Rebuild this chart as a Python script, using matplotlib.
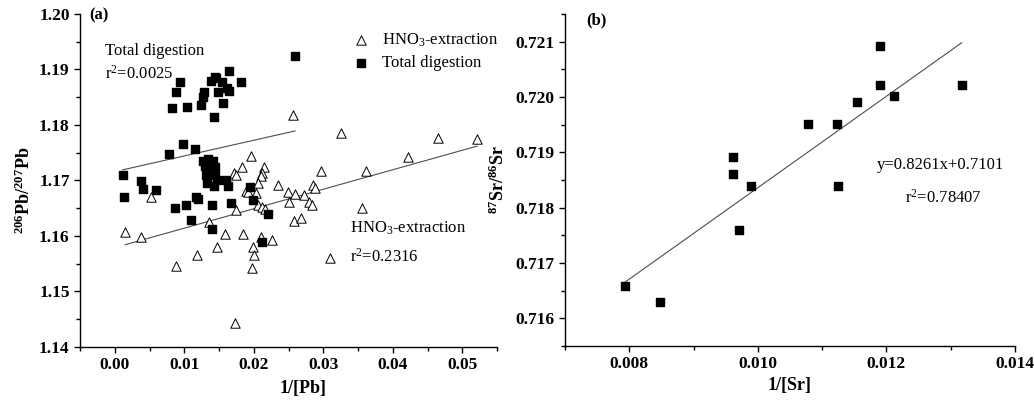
import matplotlib
matplotlib.use("Agg")

import matplotlib.pyplot as plt
import numpy as np
from matplotlib.ticker import MultipleLocator, FormatStrFormatter

# ── panel (a): 206Pb/207Pb vs 1/[Pb] ─────────────────────────────────────────
total_x = [0.02594, 0.01645, 0.00936, 0.01437, 0.01390, 0.01462, 0.01814,
           0.01544, 0.01620, 0.01640, 0.00883, 0.01283, 0.01486, 0.01264,
           0.01553, 0.00820, 0.01042, 0.01235, 0.01423,
           0.00989, 0.01148, 0.00777, 0.00116, 0.01269, 0.01341, 0.01414,
           0.01302, 0.01379, 0.01447, 0.01317, 0.01447, 0.01331, 0.01428,
           0.01476, 0.01606, 0.01630, 0.00376, 0.00400, 0.00598, 0.00130,
           0.01944, 0.01983, 0.02200, 0.01162, 0.01196, 0.00868, 0.01032,
           0.01404, 0.01674, 0.01100, 0.01399, 0.02123]
total_y = [1.1925, 1.1897, 1.1877, 1.1887, 1.1879, 1.1884, 1.1877,
           1.1877, 1.1866, 1.1862, 1.1860, 1.1859, 1.1859, 1.1851,
           1.1840, 1.1831, 1.1832, 1.1836, 1.1814,
           1.1765, 1.1757, 1.1748, 1.1710, 1.1736, 1.1738, 1.1736,
           1.1726, 1.1720, 1.1724, 1.1710, 1.1710, 1.1696, 1.1690,
           1.1700, 1.1700, 1.1690, 1.1699, 1.1684, 1.1683, 1.1670,
           1.1689, 1.1664, 1.1640, 1.1671, 1.1667, 1.1651, 1.1655,
           1.1655, 1.1659, 1.1628, 1.1612, 1.1590]

hno3_x = [0.01954, 0.01833, 0.02152, 0.01710, 0.01750, 0.02113, 0.02103,
          0.02065, 0.02344, 0.01886, 0.01920, 0.02026, 0.02489, 0.02595,
          0.02513, 0.00521, 0.02065, 0.02113, 0.01751, 0.02161, 0.01356,
          0.02586, 0.02682, 0.00149, 0.00376, 0.01592, 0.01848, 0.02103,
          0.02268, 0.01466, 0.01993, 0.01187, 0.02002, 0.00883, 0.01973,
          0.01727, 0.02561, 0.03256, 0.04645, 0.05214, 0.04221, 0.02967,
          0.03618, 0.02851, 0.02875, 0.02716, 0.02797, 0.02836, 0.03560,
          0.03092]
hno3_y = [1.1745, 1.1724, 1.1724, 1.1714, 1.1710, 1.1714, 1.1708,
          1.1695, 1.1692, 1.1681, 1.1679, 1.1678, 1.1679, 1.1676,
          1.1661, 1.1671, 1.1656, 1.1652, 1.1646, 1.1649, 1.1626,
          1.1627, 1.1632, 1.1608, 1.1598, 1.1603, 1.1604, 1.1598,
          1.1593, 1.1581, 1.1581, 1.1566, 1.1566, 1.1546, 1.1543,
          1.1444, 1.1818, 1.1785, 1.1777, 1.1774, 1.1742, 1.1718,
          1.1717, 1.1691, 1.1687, 1.1673, 1.1661, 1.1655, 1.1651,
          1.1561]

# regression lines as drawn in the original (slope, intercept)
total_fit = (0.2825, 1.1716)
hno3_fit = (0.3509, 1.1579)

# ── panel (b): 87Sr/86Sr vs 1/[Sr] ───────────────────────────────────────────
sr_x = [0.00794, 0.00848, 0.009613, 0.009613, 0.009897, 0.009706, 0.010774,
        0.01123, 0.01125, 0.01154, 0.01190, 0.01190, 0.01212, 0.01317]
sr_y = [0.71658, 0.71629, 0.71891, 0.71860, 0.71840, 0.71759, 0.71951,
        0.71951, 0.71840, 0.71991, 0.72021, 0.72092, 0.72001, 0.72021]
sr_fit = (0.8261, 0.7101)

# ── style ─────────────────────────────────────────────────────────────────────
plt.rcParams.update({
    "font.family":      "Liberation Serif",
    "font.size":        12,
    "mathtext.default": "regular",
    "axes.linewidth":   1.0,
    "xtick.direction":  "out",
    "ytick.direction":  "out",
    "xtick.labelsize":  12.5,
    "ytick.labelsize":  12.5,
    "xtick.major.size": 4,
    "ytick.major.size": 4,
    "xtick.minor.size": 3,
    "ytick.minor.size": 3,
})
LABEL_FS = 13

FIG_W, FIG_H = 1034, 405
fig = plt.figure(figsize=(FIG_W / 100, FIG_H / 100), dpi=100)


def px_axes(left, top, right, bottom):
    """Axes from pixel box (measured from the top-left corner)."""
    return fig.add_axes([left / FIG_W, (FIG_H - bottom) / FIG_H,
                         (right - left) / FIG_W, (bottom - top) / FIG_H])


def style_axes(ax):
    for s in ("top", "right"):
        ax.spines[s].set_visible(False)
    ax.tick_params(which="both", width=1.0)
    for lab in ax.get_xticklabels() + ax.get_yticklabels():
        lab.set_fontweight("bold")


def fit_line(ax, xs, coef):
    xx = np.array([min(xs), max(xs)])
    ax.plot(xx, coef[0] * xx + coef[1], color="0.3", lw=0.8, zorder=1)


# ── (a) ───────────────────────────────────────────────────────────────────────
ax1 = px_axes(80, 14, 497, 347)
ax1.scatter(hno3_x, hno3_y, marker="^", s=46, facecolor="white",
            edgecolor="black", linewidth=0.7, zorder=2,
            label="HNO$_3$-extraction")
ax1.scatter(total_x, total_y, marker="s", s=38, color="black", zorder=3,
            label="Total digestion")
fit_line(ax1, total_x, total_fit)
fit_line(ax1, hno3_x, hno3_fit)

ax1.set_xlim(-0.005, 0.055)
ax1.set_ylim(1.14, 1.20)
ax1.xaxis.set_major_locator(MultipleLocator(0.01))
ax1.xaxis.set_minor_locator(MultipleLocator(0.005))
ax1.yaxis.set_major_locator(MultipleLocator(0.01))
ax1.yaxis.set_minor_locator(MultipleLocator(0.005))
ax1.xaxis.set_major_formatter(FormatStrFormatter("%.2f"))
ax1.yaxis.set_major_formatter(FormatStrFormatter("%.2f"))
style_axes(ax1)

ax1.set_xlabel("1/[Pb]", fontweight="bold", fontsize=LABEL_FS)
ax1.xaxis.set_label_coords(0.535, -0.10)
ax1.set_ylabel("$^{206}$Pb/$^{207}$Pb", fontweight="bold", fontsize=LABEL_FS)
ax1.yaxis.set_label_coords(-0.11, 0.47)

ax1.text(0.022, 0.997, "(a)", transform=ax1.transAxes, fontweight="bold",
         ha="left", va="center")
ax1.text(0.06, 0.89, "Total digestion", transform=ax1.transAxes,
         ha="left", va="center")
ax1.text(0.06, 0.82, "r$^2$=0.0025", transform=ax1.transAxes,
         ha="left", va="center")
ax1.text(0.647, 0.356, "HNO$_3$-extraction", transform=ax1.transAxes,
         ha="left", va="center")
ax1.text(0.647, 0.271, "r$^2$=0.2316", transform=ax1.transAxes,
         ha="left", va="center")

ax1.legend(loc="upper left", bbox_to_anchor=(0.655, 0.948), frameon=False,
           borderpad=0, borderaxespad=0, handlelength=1.0,
           handletextpad=0.75, labelspacing=0.4, scatterpoints=1)

# ── (b) ───────────────────────────────────────────────────────────────────────
ax2 = px_axes(565, 14, 1015, 346)
ax2.scatter(sr_x, sr_y, marker="s", s=38, color="black", zorder=3)
fit_line(ax2, sr_x, sr_fit)

ax2.set_xlim(0.007, 0.014)
ax2.set_ylim(0.7155, 0.7215)
ax2.xaxis.set_major_locator(MultipleLocator(0.002))
ax2.xaxis.set_minor_locator(MultipleLocator(0.001))
ax2.yaxis.set_major_locator(MultipleLocator(0.001))
ax2.yaxis.set_minor_locator(MultipleLocator(0.0005))
ax2.xaxis.set_major_formatter(FormatStrFormatter("%.3f"))
ax2.yaxis.set_major_formatter(FormatStrFormatter("%.3f"))
style_axes(ax2)

ax2.set_xlabel("1/[Sr]", fontweight="bold", fontsize=LABEL_FS)
ax2.xaxis.set_label_coords(0.498, -0.092)
ax2.set_ylabel("$^{87}$Sr/$^{86}$Sr", fontweight="bold", fontsize=LABEL_FS)
ax2.yaxis.set_label_coords(-0.127, 0.5)

ax2.text(0.048, 0.982, "(b)", transform=ax2.transAxes, fontweight="bold",
         ha="left", va="center")
ax2.text(0.835, 0.545, "y=0.8261x+0.7101", transform=ax2.transAxes,
         ha="center", va="center")
ax2.text(0.84, 0.448, "r$^2$=0.78407", transform=ax2.transAxes,
         ha="center", va="center")

fig.savefig("out.png", dpi=100)
